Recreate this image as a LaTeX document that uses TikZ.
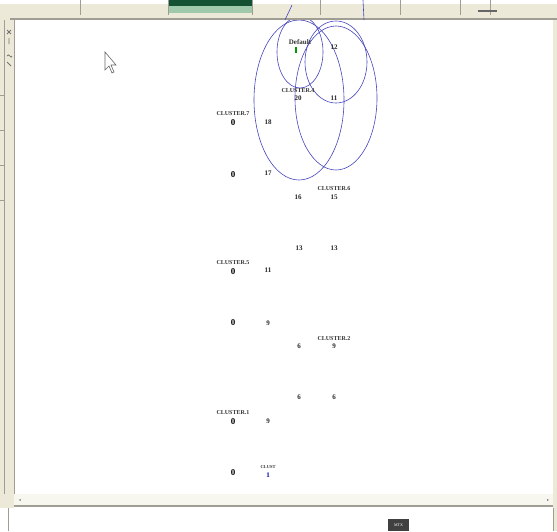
\documentclass[tikz,border=0pt]{standalone}
\usepackage{fontspec}
\setmainfont{Liberation Serif}
\newfontfamily\symfont{DejaVu Sans}
\definecolor{frame}{RGB}{236,233,216}
\definecolor{frameline}{RGB}{160,158,148}
\definecolor{ringblue}{RGB}{70,70,190}
\definecolor{tabgreen}{RGB}{20,80,50}
\definecolor{tablight}{RGB}{160,200,170}
\tikzset{
  ring/.style={draw=ringblue, line width=0.6pt},
  clab/.style={font=\fontsize{6}{7}\selectfont\bfseries, inner sep=0pt, text=black!80},
  num/.style={font=\fontsize{7}{8}\selectfont\bfseries, inner sep=0pt, text=black!85},
  icon/.style={font=\fontsize{9}{10}\selectfont\bfseries, inner sep=0pt},
}
\begin{document}
\begin{tikzpicture}[x=1pt,y=-1pt]
\useasboundingbox (0,0) rectangle (557,531);
\fill[white] (0,0) rectangle (557,531);
% top bar
\fill[frame] (0,4) rectangle (557,20);
\draw[frameline, line width=1.5pt] (10,19) -- (557,19);
\fill[tabgreen] (168,0) rectangle (252,6);
\fill[tablight] (168,6) rectangle (252,13);
\foreach \xx in {80,168,252,320,400,460,490} \draw[frameline] (\xx,0) -- (\xx,15);
\draw[black!60, line width=1.2pt] (478,11) -- (497,11);
% left strip
\fill[frame] (0,20) rectangle (14,494);
\draw[frameline, line width=1pt] (14,20) -- (14,494);
\draw[frameline] (4,20) -- (4,494);
\foreach \yy in {95,130,165,200} \draw[frameline] (0,\yy) -- (4,\yy);
\draw[black!55, line width=0.8pt] (7,30) -- (11,34) (7,34) -- (11,30) (9,38) -- (9,44);
\draw[black!55, line width=0.8pt] (7,56) .. controls (9,52) and (11,60) .. (12,56) (7,62) -- (11,66);
% right edge
\fill[frame] (553,20) rectangle (557,531);
% bottom scrollbar
\fill[white!60!frame] (14,494) rectangle (553,505);
\fill[frame] (0,494) rectangle (14,508);
\draw[frameline, line width=1.5pt] (14,506) -- (553,506);
\node[font=\symfont\fontsize{4}{5}\selectfont, text=black!60] (sl) at (20,500) {◂};
\node[font=\symfont\fontsize{4}{5}\selectfont, text=black!60] (sr) at (548,500) {▸};
\draw[frameline] (8,508) -- (8,531);
\draw[frameline] (553,508) -- (553,531);
\fill[black!75] (388,519) rectangle (409,531);
\node[font=\fontsize{4}{5}\selectfont, text=white, inner sep=0pt] (st) at (398.5,525) {MTX};
% mouse cursor
\draw[black!60, fill=white, line width=0.6pt] (105,52) -- (105,70) -- (109,66) -- (112,73) -- (114,72) -- (111,65) -- (116,65) -- cycle;
% rings
\begin{scope}
\clip (14,20) rectangle (553,494);
\draw[ring] (300,52) ellipse [x radius=23, y radius=36];
\draw[ring] (336,62) ellipse [x radius=31, y radius=41];
\draw[ring] (299,100) ellipse [x radius=45, y radius=80];
\draw[ring] (336,98) ellipse [x radius=41, y radius=72];
\end{scope}
\draw[ring] (363,0) -- (364,20);
\draw[ring] (285,20) -- (292,5);
% labels
\node[clab, font=\fontsize{7}{8}\selectfont\bfseries] (def) at (300,42) {Default};
\fill[green!60!black] (295,47) rectangle (297,53);
\node[num] (n12) at (334,47) {12};
\node[clab] (c4) at (298,91) {CLUSTER.4};
\node[num] (n20) at (298,98) {20};
\node[num] (n11a) at (334,98) {11};
\node[clab] (c7) at (233,114) {CLUSTER.7};
\node[icon] (i7) at (233,123) {0};
\node[num] (n18) at (268,122) {18};
\node[icon] (i7b) at (233,175) {0};
\node[num] (n17) at (268,173) {17};
\node[num] (n16) at (298,197) {16};
\node[clab] (c6) at (334,189) {CLUSTER.6};
\node[num] (n15) at (334,197) {15};
\node[num] (n13a) at (299,248) {13};
\node[num] (n13b) at (334,248) {13};
\node[clab] (c5) at (233,263) {CLUSTER.5};
\node[icon] (i5) at (233,272) {0};
\node[num] (n11b) at (268,270) {11};
\node[icon] (i5b) at (233,323) {0};
\node[num] (n9a) at (268,323) {9};
\node[num] (n6a) at (299,346) {6};
\node[clab] (c2) at (334,339) {CLUSTER.2};
\node[num] (n9b) at (334,346) {9};
\node[num] (n6b) at (299,397) {6};
\node[num] (n6c) at (334,397) {6};
\node[clab] (c1) at (233,413) {CLUSTER.1};
\node[icon] (i1) at (233,422) {0};
\node[num] (n9c) at (268,421) {9};
\node[icon] (i1b) at (233,473) {0};
\node[clab, font=\fontsize{4.5}{5}\selectfont\bfseries] (c0) at (268,467) {CLUST};
\node[num, text=blue!70!black] (n1) at (268,475) {1};
\end{tikzpicture}
\end{document}
